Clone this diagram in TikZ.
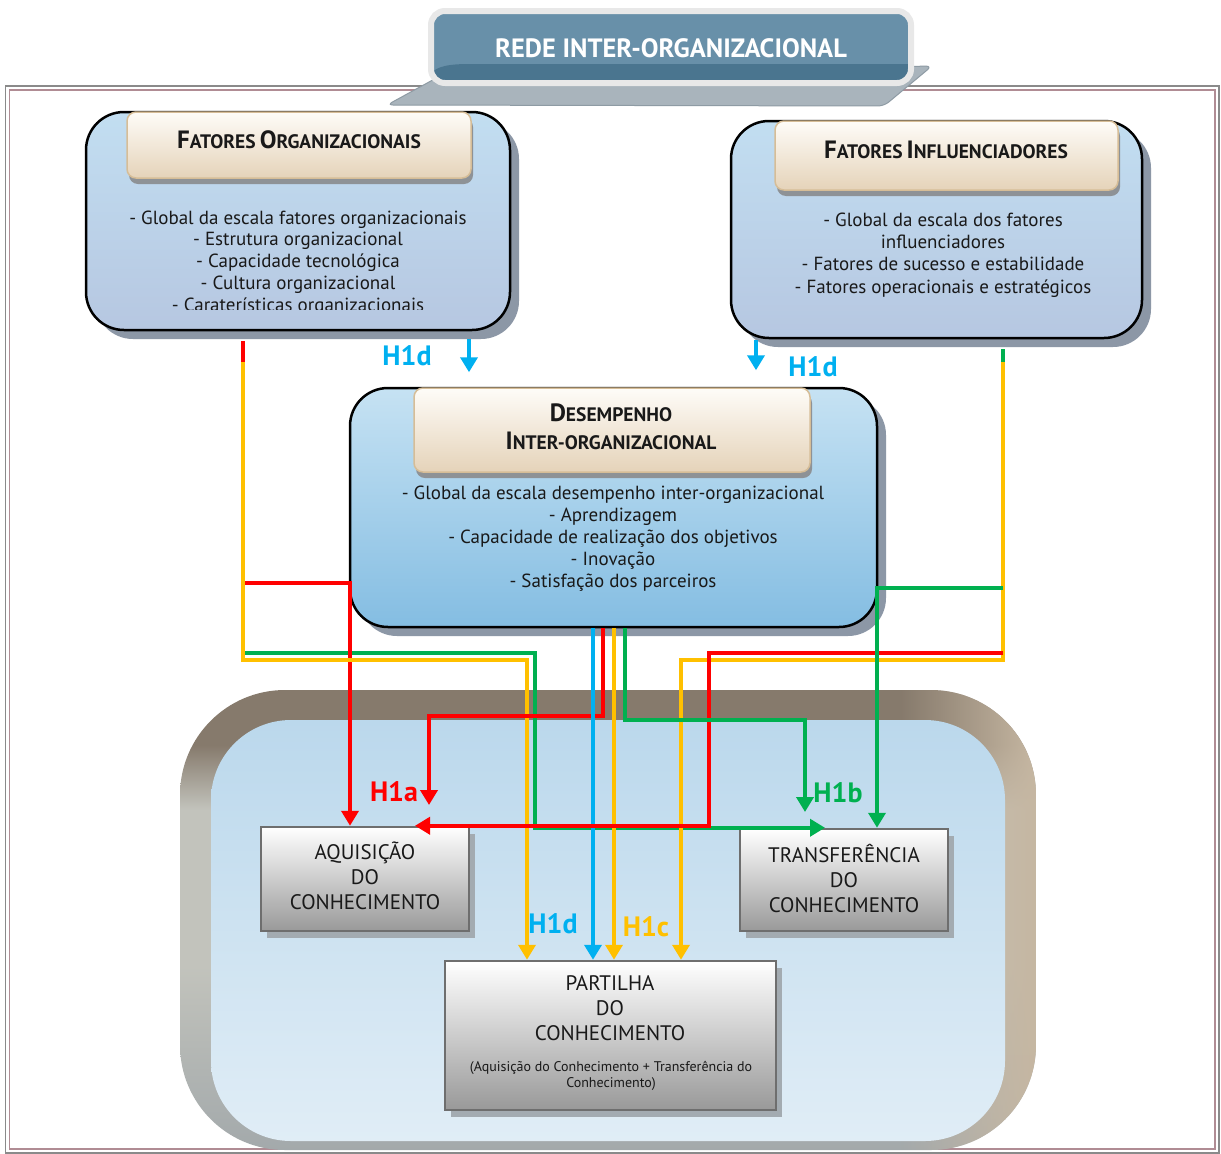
\documentclass[tikz,border=0pt]{standalone}
\usepackage{fontspec}
\setmainfont{PT Sans}
\usetikzlibrary{shadows,arrows.meta,calc,fadings}

% palette
\definecolor{lnred}{HTML}{FF0000}
\definecolor{lnyel}{HTML}{FFC000}
\definecolor{lngrn}{HTML}{00B050}
\definecolor{lnblu}{HTML}{00B0F0}
\definecolor{fotop}{HTML}{C2DEF1}
\definecolor{fobot}{HTML}{B6C7E1}
\definecolor{ditop}{HTML}{C6E2F3}
\definecolor{dibot}{HTML}{84BDE2}
\definecolor{shblue}{HTML}{8C97A6}
\definecolor{headtop}{HTML}{FEFCF8}
\definecolor{headbot}{HTML}{E5D3B9}
\definecolor{headrim}{HTML}{D6BD97}
\definecolor{headsh}{HTML}{8E9296}
\definecolor{boxbot}{HTML}{999999}
\definecolor{boxrim}{HTML}{6E6E6E}
\definecolor{boxsh}{HTML}{A3ABB1}
\definecolor{ttlblue}{HTML}{6890A9}
\definecolor{ttlband}{HTML}{4A758F}
\definecolor{ttlrim}{HTML}{E8E8E8}
\definecolor{ttlgrey}{HTML}{A9B4BC}
\definecolor{ttlgreyrim}{HTML}{8E9BA4}
\definecolor{framegrey}{HTML}{8A8A8A}
\definecolor{framemauve}{HTML}{B08C94}
\definecolor{pnlbrown}{HTML}{867A6C}
\definecolor{pnltan}{HTML}{C6B7A2}
\definecolor{pnlleft}{HTML}{C2C3BC}
\definecolor{pnlbottom}{HTML}{A3A9AB}
\definecolor{pnltop}{HTML}{BBD8EC}
\definecolor{pnlbot}{HTML}{E0EDF6}

% frame of the lower panel: brown top, light grey sides, darker grey bottom
\pgfdeclareverticalshading{pnlshade}{100bp}{color(0bp)=(pnlbottom); color(25bp)=(pnlbottom);
  color(45bp)=(pnlleft); color(62bp)=(pnlleft); color(69bp)=(pnlbrown); color(75bp)=(pnlbrown); color(100bp)=(pnlbrown)}
\tikzfading[name=tanfade, left color=transparent!100, right color=transparent!0]

% small-caps heading word: large initial, smaller rest
\newcommand{\scw}[2]{{\fontsize{25}{25}\selectfont #1}{\fontsize{19.5}{19.5}\selectfont #2}}

\begin{document}
\begin{tikzpicture}[x=1pt,y=-1pt,
  bluebox/.style={draw=black, line width=2.5pt, rounded corners=38pt, inner sep=0pt,
    drop shadow={shadow xshift=9pt, shadow yshift=-9pt, fill=shblue, opacity=1}},
  headbox/.style={draw=headrim, line width=1.5pt, rounded corners=9pt, inner sep=0pt,
    top color=headtop, bottom color=headbot,
    drop shadow={shadow xshift=2pt, shadow yshift=-6pt, fill=headsh, opacity=1}},
  headtext/.style={font=\bfseries, align=center, text=black!90},
  bodytext/.style={align=center, text=black!90},
  graybox/.style={draw=boxrim, line width=2.5pt, inner sep=0pt, top color=white, bottom color=boxbot,
    drop shadow={shadow xshift=6pt, shadow yshift=-7pt, fill=boxsh, opacity=1}},
  boxtext/.style={align=center, font=\fontsize{21}{25}\selectfont, text=black!90},
  link/.style={line width=4pt},
  conn/.style={line width=4pt, -{Triangle[length=15pt,width=17pt]}},
  hlabel/.style={font=\fontsize{28}{28}\selectfont\bfseries}
]
\useasboundingbox (0,0) rectangle (1221,1154);
\fill[white] (0,0) rectangle (1221,1154);

% outer double frame
\draw[framegrey, line width=1.6pt] (5.5,86) rectangle (1219,1153);
\draw[framemauve, line width=1.4pt] (9.5,90) rectangle (1215,1149);

% title banner
\fill[ttlgrey, draw=ttlgreyrim, line width=1pt, rounded corners=6pt]
  (387,105) -- (440,76) -- (932,66) -- (884,106) -- cycle;
\fill[ttlblue, rounded corners=13pt] (431,11) rectangle (911,83);
\begin{scope}
  \clip[rounded corners=13pt] (431,11) rectangle (911,83);
  \fill[ttlband] (431,83) -- (431,74) .. controls (436,66) and (450,64) .. (470,64) -- (911,64) -- (911,83) -- cycle;
\end{scope}
\draw[ttlrim, line width=6pt, rounded corners=14pt] (431,11) rectangle (911,83);
\node[font=\fontsize{26.5}{26.5}\selectfont\bfseries, text=white] (title) at (671,48) {REDE INTER-ORGANIZACIONAL};

% lower panel
\begin{scope}
  \clip[rounded corners=105pt] (180,690) rectangle (1036,1150);
  \shade[shading=pnlshade] (180,690) rectangle (1036,1150);
  \fill[pnltan, path fading=tanfade] (900,690) rectangle (1036,1150);
\end{scope}
\shade[top color=pnltop, bottom color=pnlbot, rounded corners=80pt] (211,720) rectangle (1005,1141);

% top-left block
\node[bluebox, top color=fotop, bottom color=fobot, minimum width=424pt, minimum height=218pt] (fo) at (298,221) {};
\node[headbox, minimum width=344pt, minimum height=66pt] (foh) at (299,145) {};
\node[headtext] (foht) at (299,140) {\scw{F}{ATORES}\hspace{0.15em} \scw{O}{RGANIZACIONAIS}};
\begin{scope}
  \clip (100,200) rectangle (500,309);
  \node[bodytext, font=\fontsize{19}{21.8}\selectfont] (fob) at (298,263)
    {- Global da escala fatores organizacionais\\- Estrutura organizacional\\- Capacidade tecnológica\\- Cultura organizacional\\- Caraterísticas organizacionais};
\end{scope}

% top-right block
\node[bluebox, top color=fotop, bottom color=fobot, minimum width=411pt, minimum height=217pt] (fi) at (936.5,229.5) {};
\node[headbox, minimum width=343pt, minimum height=69pt] (fih) at (946.5,155.5) {};
\node[headtext] (fiht) at (946,150) {\scw{F}{ATORES}\hspace{0.15em} \scw{I}{NFLUENCIADORES}};
\node[bodytext, font=\fontsize{19}{22.3}\selectfont] (fib) at (943,255)
  {- Global da escala dos fatores\\influenciadores\\- Fatores de sucesso e estabilidade\\- Fatores operacionais e estratégicos};

% central block
\node[bluebox, top color=ditop, bottom color=dibot, minimum width=527pt, minimum height=239pt] (di) at (613.5,507.5) {};
\node[headbox, minimum width=396pt, minimum height=84pt] (dih) at (612,430) {};
\node[headtext, font=\bfseries\fontsize{19.5}{28}\selectfont] (diht) at (611,427) {\scw{D}{ESEMPENHO}\\\scw{I}{NTER-ORGANIZACIONAL}};
\node[bodytext, font=\fontsize{19}{22}\selectfont] (dib) at (613,539)
  {- Global da escala desempenho inter-organizacional\\- Aprendizagem\\- Capacidade de realização dos objetivos\\- Inovação\\- Satisfação dos parceiros};

% knowledge boxes
\node[graybox, minimum width=208pt, minimum height=104pt] (aq) at (365,879) {};
\node[boxtext] (aqt) at (365,876) {AQUISIÇÃO\\DO\\CONHECIMENTO};
\node[graybox, minimum width=208pt, minimum height=102pt] (tr) at (844,880) {};
\node[boxtext] (trt) at (844,878) {TRANSFERÊNCIA\\DO\\CONHECIMENTO};
\node[graybox, minimum width=331pt, minimum height=149pt] (pa) at (610.5,1035.5) {};
\node[boxtext] (pat) at (610,1008) {PARTILHA\\DO\\CONHECIMENTO};
\node[align=center, font=\fontsize{14}{16}\selectfont, text=black!90] (pas) at (611,1076)
  {(Aquisição do Conhecimento + Transferência do\\Conhecimento)};

% free ends of the arrows that stop short of a box
\coordinate (h1aend) at (429,805);
\coordinate (h1bend) at (805,812);

% connectors, back to front
\draw[link, lngrn, -{Triangle[length=15pt,width=17pt]}]
  ([xshift=-55pt,yshift=-31pt]fo.south) |- (535,653) |- ([xshift=-19pt]tr.north);
\draw[link, lnred, -{Triangle[length=15pt,width=17pt]}]
  ([xshift=-55pt,yshift=-10pt]fo.south) |- (350,583) -- ([xshift=-15pt]aq.north);
\draw[conn, lnyel]
  ([xshift=-55pt,yshift=-31pt]fo.south) |- (527,660) -- ([xshift=-83.5pt]pa.north);
\draw[conn, lnred]
  ([xshift=-10.5pt]di.south) |- (429,716) -- (h1aend);
\draw[conn, lnblu]
  ([xshift=-20.5pt]di.south) -- ([xshift=-17.5pt]pa.north);
\draw[conn, lnyel]
  ([xshift=0.5pt]di.south) -- ([xshift=3.5pt]pa.north);
\draw[link, lnred] ([xshift=66.5pt,yshift=-10pt]fi.south) -- (1003,653);
\draw[link, lngrn] ([xshift=66.5pt,yshift=-10pt]fi.south) -- (1003,588);
\draw[conn, lnyel]
  ([xshift=66.5pt,yshift=-23pt]fi.south) |- (681,660) -- ([xshift=70.5pt]pa.north);
\draw[conn, lnred]
  (1003,653) -| (709,700) |- ([xshift=50pt]aq.north);
\draw[conn, lngrn]
  ([xshift=11.5pt]di.south) |- (805,720) -- (h1bend);
\draw[conn, lngrn]
  (1003,588) -| ([xshift=33pt]tr.north);

% short links between the upper blocks and the central one
\draw[conn, lnblu] ([xshift=171pt,yshift=-8pt]fo.south) -- ++(0,33);
\draw[conn, lnblu] ([xshift=-180.5pt,yshift=-1pt]fi.south) -- ++(0,30);

% hypothesis labels
\node[hlabel, lnblu] (l1) at (407,356) {H1d};
\node[hlabel, lnblu] (l2) at (813,367) {H1d};
\node[hlabel, lnred] (l3) at (394,792) {H1a};
\node[hlabel, lngrn] (l4) at (838,793) {H1b};
\node[hlabel, lnblu] (l5) at (553,924) {H1d};
\node[hlabel, lnyel] (l6) at (646,927) {H1c};
\end{tikzpicture}
\end{document}
